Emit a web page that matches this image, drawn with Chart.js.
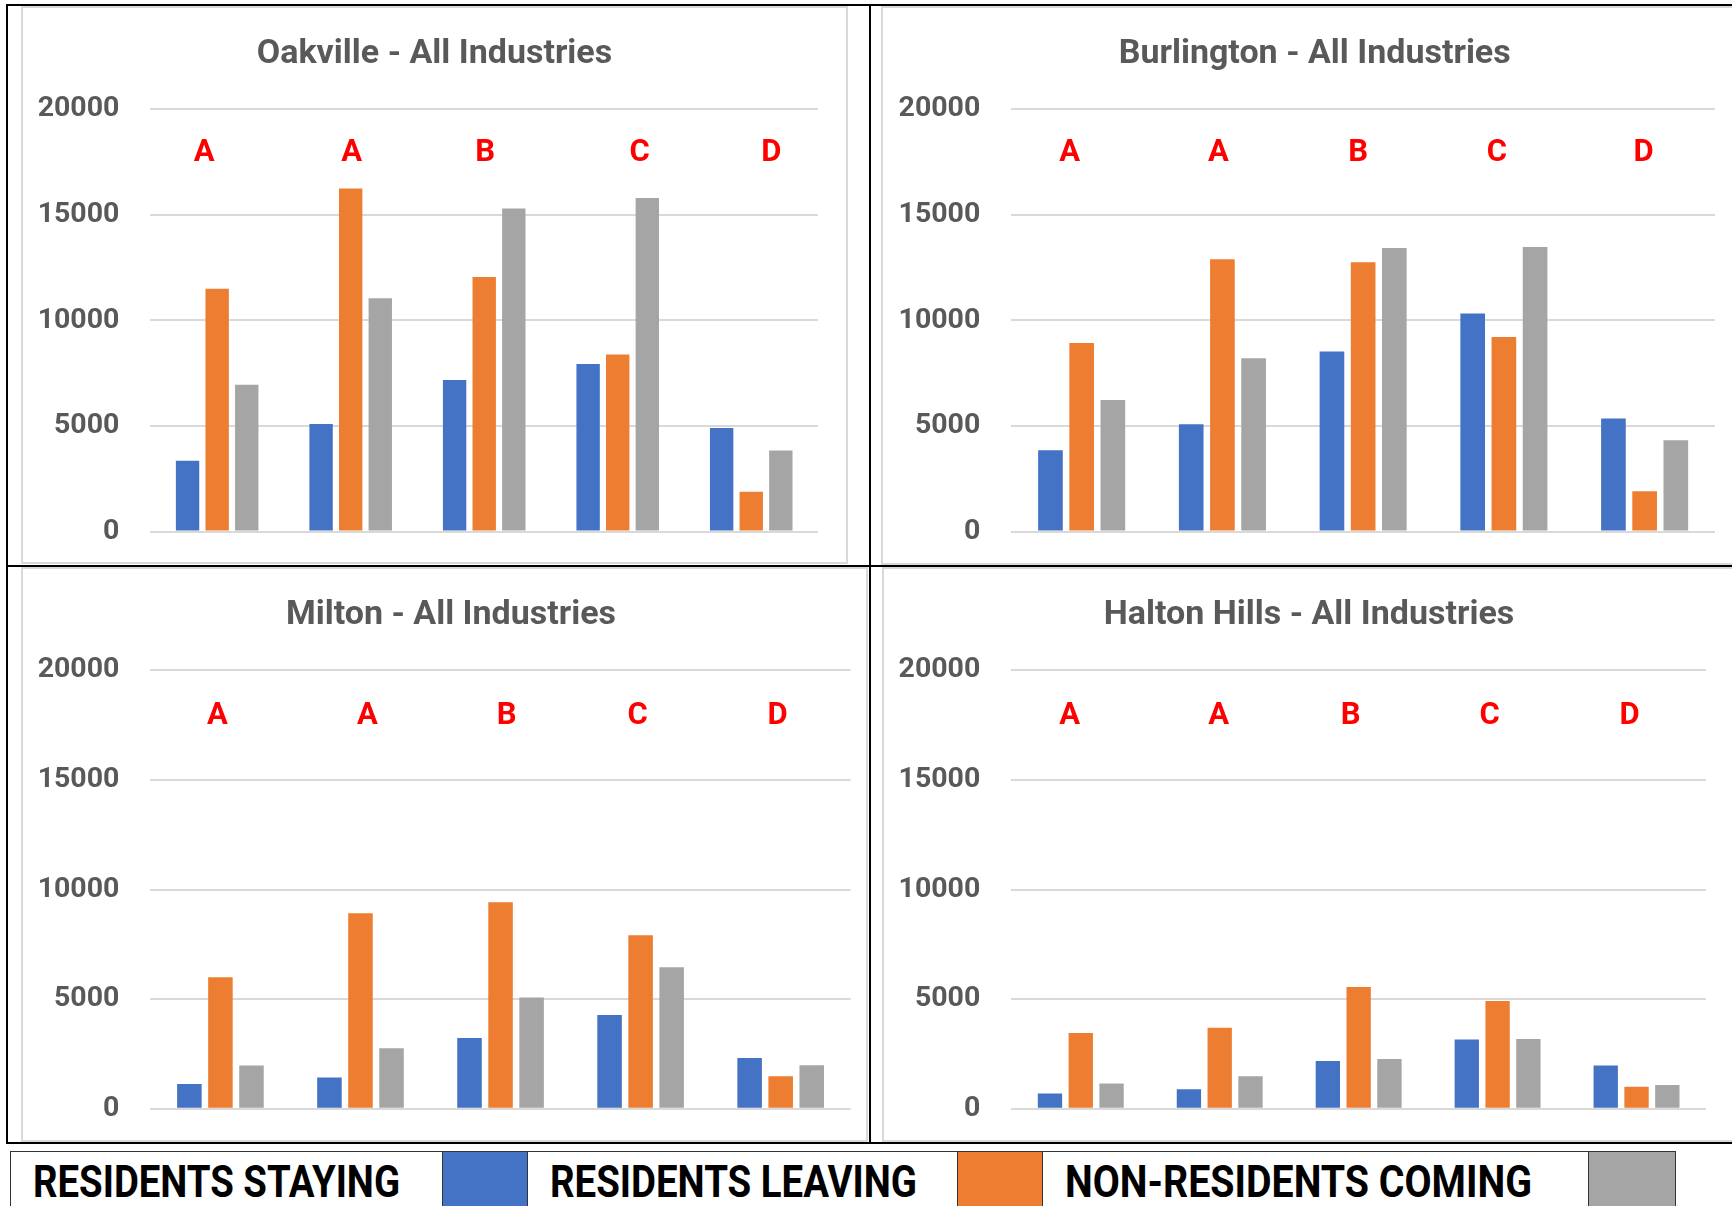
<!DOCTYPE html>
<html>
<head>
<meta charset="utf-8">
<title>Commuting flows by industry group - Halton municipalities</title>
<script src="https://cdn.jsdelivr.net/npm/chart.js@4.4.1/dist/chart.umd.min.js"></script>
<style>
  html, body { margin: 0; padding: 0; background: #fff; }
  body { width: 1732px; height: 1206px; overflow: hidden; position: relative; font-family: Roboto, sans-serif; }
  .rule { position: absolute; background: #000; z-index: 5; }
  .panel { position: absolute; border: 2px solid #d9d9d9; background: #fff; }
  .panel canvas { display: block; }
  .key { position: absolute; top: 1151px; height: 80px; box-sizing: border-box;
         border-top: 1px solid #333; border-left: 1px solid #333; background: #fff; }
  .key.last { border-right: 1.5px solid #333; }
  .key span { position: absolute; top: 8.5px; font-weight: bold; font-size: 43.6px; line-height: 43.6px;
              color: #000; white-space: nowrap; transform-origin: 0 0; }
</style>
</head>
<body>

<script>
// ---- data -------------------------------------------------------------
const categories   = ['A', 'A', 'B', 'C', 'D'];
const seriesNames  = ['RESIDENTS STAYING', 'RESIDENTS LEAVING', 'NON-RESIDENTS COMING'];
const yTicks       = [0, 5000, 10000, 15000, 20000];

const oakvilleStaying   = [3350, 5100, 7180, 7930, 4900];
const oakvilleLeaving   = [11500, 16250, 12050, 8390, 1890];
const oakvilleComing    = [6950, 11050, 15300, 15800, 3840];

const burlingtonStaying = [3850, 5080, 8530, 10330, 5360];
const burlingtonLeaving = [8930, 12900, 12750, 9210, 1910];
const burlingtonComing  = [6230, 8210, 13430, 13480, 4330];

const miltonStaying     = [1130, 1430, 3230, 4280, 2320];
const miltonLeaving     = [6000, 8920, 9420, 7910, 1480];
const miltonComing      = [1970, 2760, 5080, 6460, 1990];

const haltonStaying     = [700, 890, 2180, 3160, 1970];
const haltonLeaving     = [3460, 3700, 5550, 4920, 1010];
const haltonComing      = [1150, 1480, 2270, 3180, 1080];

// ---- styling ----------------------------------------------------------
const seriesColors = ['#4472C4', '#ED7D31', '#A5A5A5'];
const FONT = 'Roboto, "Noto Sans", sans-serif';
const TITLE_SIZE = 34;
const TICK_SIZE = 28.5;
const LETTER_SIZE = 31;
const LETTER_LEVEL = 17550;   // baseline height (axis units) of the category letters
const TITLE_BASELINE = 54.7;  // px from the top of each chart canvas
const CHART_TOP = 101.2;      // px from the top of each chart canvas to the 20000 gridline
const LABEL_GAP = 31;         // px between tick labels and the plot area

// Panel boxes (canvas origin and size) and plot-area offsets
const panels = [
  { title: 'Oakville - All Industries',     series: [oakvilleStaying, oakvilleLeaving, oakvilleComing],
    x: 23,  y: 8,   w: 823, h: 554, axisW: 127.4, padR: 28,   padB: 30.4, titleX: 411.5,
    shift: [-13, 1, 1, 22, 20] },
  { title: 'Burlington - All Industries',   series: [burlingtonStaying, burlingtonLeaving, burlingtonComing],
    x: 883, y: 8,   w: 856, h: 555, axisW: 128.3, padR: 24,   padB: 31.4, titleX: 431.7,
    shift: [-12, -4, -5, -7, -1] },
  { title: 'Milton - All Industries',       series: [miltonStaying, miltonLeaving, miltonComing],
    x: 23,  y: 569, w: 843, h: 571, axisW: 127.4, padR: 15.3, padB: 31.2, titleX: 428,
    shift: [-3, 7, 6, -3, -3] },
  { title: 'Halton Hills - All Industries', series: [haltonStaying, haltonLeaving, haltonComing],
    x: 884, y: 569, w: 860, h: 571, axisW: 127.3, padR: 38,   padB: 31.2, titleX: 425,
    shift: [-11, -1, -8, -8, -7] }
];

// Chart heading, placed at a fixed point of the canvas
const panelTitle = {
  id: 'panelTitle',
  afterDraw(chart, args, opts) {
    const { ctx } = chart;
    ctx.save();
    ctx.font = 'bold ' + TITLE_SIZE + 'px ' + FONT;
    ctx.fillStyle = '#595959';
    ctx.textAlign = 'center';
    ctx.textBaseline = 'alphabetic';
    ctx.fillText(opts.text, opts.x, TITLE_BASELINE);
    ctx.restore();
  }
};

// Red category letters drawn above each group of bars
const categoryLetters = {
  id: 'categoryLetters',
  afterDatasetsDraw(chart, args, opts) {
    const { ctx, scales: { x, y } } = chart;
    ctx.save();
    ctx.font = 'bold ' + LETTER_SIZE + 'px ' + FONT;
    ctx.fillStyle = '#ff0000';
    ctx.textAlign = 'center';
    ctx.textBaseline = 'alphabetic';
    chart.data.labels.forEach((lab, i) => {
      ctx.fillText(lab, x.getPixelForValue(i) + (opts.shift[i] || 0), y.getPixelForValue(LETTER_LEVEL));
    });
    ctx.restore();
  }
};

// ---- table rules ------------------------------------------------------
function rule(l, t, w, h) {
  const d = document.createElement('div');
  d.className = 'rule';
  Object.assign(d.style, { left: l + 'px', top: t + 'px', width: w + 'px', height: h + 'px' });
  document.body.appendChild(d);
}
rule(6, 4, 1740, 2);        // top
rule(6, 565, 1740, 2);      // between rows
rule(6, 1142, 1740, 2);     // bottom
rule(6, 4, 1.5, 1140);      // left
rule(869, 4, 1.5, 1140);    // between columns

// ---- charts -----------------------------------------------------------
panels.forEach(p => {
  const box = document.createElement('div');
  box.className = 'panel';
  Object.assign(box.style, { left: (p.x - 2) + 'px', top: (p.y - 2) + 'px' });
  const cv = document.createElement('canvas');
  cv.width = p.w; cv.height = p.h;
  cv.style.width = p.w + 'px'; cv.style.height = p.h + 'px';
  box.appendChild(cv);
  document.body.appendChild(box);

  new Chart(cv, {
    type: 'bar',
    data: {
      labels: categories,
      datasets: p.series.map((vals, k) => ({
        label: seriesNames[k],
        data: vals,
        backgroundColor: seriesColors[k],
        borderWidth: 0,
        categoryPercentage: 0.665,
        barPercentage: 0.79
      }))
    },
    options: {
      responsive: false,
      animation: false,
      devicePixelRatio: 1,
      layout: { padding: { left: 0, right: p.padR, top: CHART_TOP, bottom: p.padB } },
      plugins: {
        legend: { display: false },
        tooltip: { enabled: false },
        title: { display: false },
        panelTitle: { text: p.title, x: p.titleX },
        categoryLetters: { shift: p.shift }
      },
      scales: {
        x: { display: false },
        y: {
          min: 0,
          max: 20000,
          afterBuildTicks: s => { s.ticks = yTicks.map(v => ({ value: v })); },
          afterFit: s => { s.width = p.axisW; },
          ticks: {
            color: '#595959',
            font: { family: FONT, size: TICK_SIZE, weight: 'bold', lineHeight: 1.2 },
            padding: 0,
            callback: v => String(v)
          },
          // the (invisible) tick marks provide the gap between labels and plot
          grid: { color: '#d9d9d9', lineWidth: 2, drawTicks: true, tickLength: LABEL_GAP, tickColor: 'rgba(0,0,0,0)' },
          border: { display: false }
        }
      }
    },
    plugins: [categoryLetters, panelTitle]
  });
});

// ---- legend row -------------------------------------------------------
const keyCells = [
  { l: 10,   r: 442,  text: 0, textW: 367 },
  { l: 442,  r: 527,  swatch: 0 },
  { l: 527,  r: 957,  text: 1, textW: 367 },
  { l: 957,  r: 1042, swatch: 1 },
  { l: 1042, r: 1588, text: 2, textW: 467 },
  { l: 1588, r: 1674, swatch: 2, last: true }
];
keyCells.forEach(c => {
  const d = document.createElement('div');
  d.className = 'key' + (c.last ? ' last' : '');
  Object.assign(d.style, { left: c.l + 'px', width: (c.r - c.l + (c.last ? 1.5 : 0)) + 'px' });
  if (c.swatch !== undefined) d.style.background = seriesColors[c.swatch];
  document.body.appendChild(d);
  if (c.text !== undefined) {
    const s = document.createElement('span');
    s.textContent = seriesNames[c.text];
    s.style.left = '22px';
    d.appendChild(s);
    const w = s.getBoundingClientRect().width;
    s.style.transform = 'scaleX(' + (c.textW / w).toFixed(4) + ')';
  }
});
</script>
</body>
</html>
